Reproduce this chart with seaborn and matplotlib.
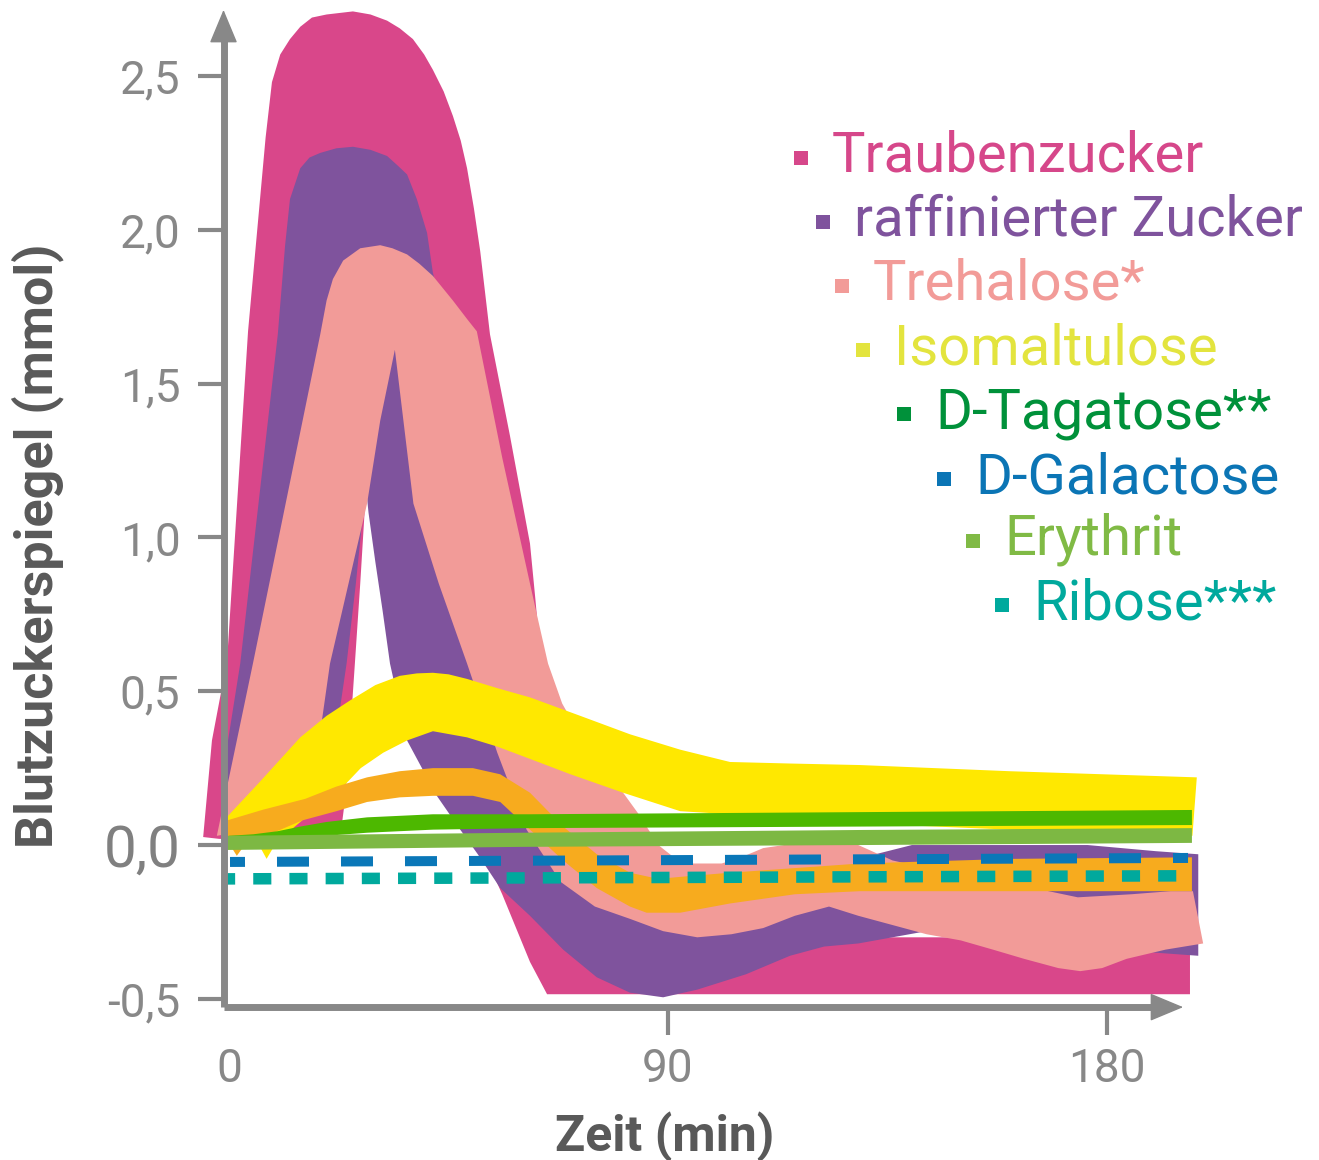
import numpy as np
import matplotlib
matplotlib.use("Agg")
import matplotlib.pyplot as plt
import seaborn as sns

sns.set_theme(style="white")
plt.rcParams['font.family'] = ['Roboto', 'DejaVu Sans']

# ---------------- data ----------------
# Traubenzucker (band: upper / lower outline)
trau_up_t = [-5.3, -3.5, -0.4, 3.9, 7.5, 8.8, 10.5, 12.5, 14.6, 17, 20, 25.4, 29, 32.4, 35, 37.7,
             40, 41.8, 44, 45.9, 47.5, 48.8, 50.2, 51.5, 53.5, 57.6, 61.7, 62.8, 64.5, 68, 72,
             80, 90, 120, 160, 197]
trau_up_v = [0.026, 0.34, 0.60, 1.67, 2.30, 2.48, 2.57, 2.62, 2.66, 2.69, 2.70, 2.71, 2.70, 2.68,
             2.655, 2.62, 2.57, 2.52, 2.45, 2.37, 2.29, 2.20, 2.07, 1.93, 1.66, 1.33, 0.98, 0.80,
             0.50, 0.20, 0.0, -0.2, -0.3, -0.3, -0.3, -0.3]
trau_lo_t = [-5.3, -2.0, 5, 15, 20, 23.0, 23.8, 24.5, 25.2, 25.8, 26.9, 27.9, 28.3, 28.8, 29.5,
             31, 33, 36.5, 40, 43.3, 48, 52, 56, 61.7, 65.2, 197]
trau_lo_v = [0.026, 0.02, 0.02, 0.02, 0.03, 0.05, 0.15, 0.30, 0.45, 0.59, 0.85, 1.11, 1.17, 1.16,
             1.07, 0.90, 0.70, 0.45, 0.33, 0.22, 0.10, -0.02, -0.16, -0.38, -0.485, -0.485]

# raffinierter Zucker
raff_up_t = [-1.5, -0.2, 2.3, 10, 11.5, 12.5, 14.6, 16.5, 18.7, 22, 25.4, 29, 32.4, 34.5, 36.5,
             38.5, 40.6, 41.8, 45, 50, 55, 60, 65, 70, 75, 85, 100, 115, 130, 140, 160, 176,
             190, 198.7]
raff_up_v = [0.10, 0.34, 0.59, 1.66, 1.95, 2.10, 2.20, 2.235, 2.25, 2.265, 2.27, 2.26, 2.24, 2.21,
             2.18, 2.10, 1.99, 1.86, 1.65, 1.35, 0.95, 0.60, 0.30, 0.10, 0.02, -0.05, -0.10,
             -0.08, -0.04, 0.0, 0.0, 0.0, -0.02, -0.03]
raff_lo_t = [-1.5, 5, 15, 20, 21.5, 22.8, 24.1, 26, 27.6, 28.1, 28.6, 30, 31.5, 33, 36.5, 42.6,
             47.4, 51, 55.6, 61.7, 68.5, 75.4, 82.2, 89, 96, 106, 115, 122, 129, 136, 143, 160,
             175, 190, 198.7]
raff_lo_v = [0.10, 0.10, 0.12, 0.20, 0.30, 0.45, 0.59, 0.85, 1.10, 1.16, 1.08, 0.92, 0.76, 0.59, 0.34,
             0.16, 0.05, -0.03, -0.14, -0.23, -0.34, -0.43, -0.48, -0.495, -0.47, -0.42, -0.36,
             -0.33, -0.32, -0.30, -0.28, -0.30, -0.33, -0.35, -0.36]

# Trehalose*
treh_up_t = [-2.5, 1.6, 4.9, 18.7, 20, 21.3, 23.4, 26.9, 31, 33.5, 36.5, 39, 41.8, 45.9, 48.8,
             50.8, 56, 61.7, 63.1, 65.4, 68.3, 74, 80.8, 84, 88, 92, 94.5, 101, 105, 109.5, 118,
             129, 136, 150, 165, 174, 185, 193, 197.6]
treh_up_v = [0.03, 0.34, 0.59, 1.66, 1.77, 1.84, 1.90, 1.94, 1.95, 1.94, 1.92, 1.89, 1.85, 1.77,
             1.71, 1.67, 1.26, 0.85, 0.75, 0.59, 0.46, 0.30, 0.17, 0.10, 0.0, -0.05, -0.06, -0.06,
             -0.04, -0.01, 0.01, 0.0, -0.05, -0.10, -0.14, -0.17, -0.16, -0.15, -0.15]
treh_lo_t = [-2.5, 5, 10, 16, 19, 20.7, 24.5, 28.3, 31, 34, 37.8, 43, 48.8, 55, 61, 68, 75, 82.2,
             89, 96, 103, 109.5, 116, 123, 129, 136, 143, 150, 156.6, 163, 170, 174.5, 179, 184,
             192, 199.7]
treh_lo_v = [0.03, 0.05, 0.08, 0.20, 0.40, 0.59, 0.85, 1.11, 1.38, 1.61, 1.11, 0.85, 0.59, 0.30, 0.05,
             -0.12, -0.20, -0.24, -0.28, -0.30, -0.29, -0.27, -0.23, -0.20, -0.23, -0.26, -0.29,
             -0.31, -0.34, -0.37, -0.40, -0.41, -0.40, -0.37, -0.34, -0.32]

# Isomaltulose
iso_up_t = [-0.5, 6, 14.6, 20, 24.8, 30, 35, 38.5, 41.8, 45, 48.8, 55, 61.7, 72, 82.2, 92.5,
            102.7, 115, 129.4, 160, 198.4]
iso_up_v = [0.09, 0.20, 0.35, 0.42, 0.47, 0.52, 0.55, 0.558, 0.56, 0.555, 0.54, 0.51, 0.48, 0.42,
            0.36, 0.31, 0.27, 0.265, 0.26, 0.24, 0.22]
iso_lo_t = [-0.5, 3, 6.5, 7.7, 9, 12, 15, 20, 23.4, 27, 31.6, 36.5, 41.8, 48.8, 55, 61.7, 70, 80.8,
            92.5, 102.7, 130, 160, 197.5]
iso_lo_v = [0.06, 0.02, -0.01, -0.045, -0.01, 0.04, 0.08, 0.15, 0.19, 0.25, 0.30, 0.34, 0.37, 0.35,
            0.32, 0.28, 0.23, 0.17, 0.11, 0.10, 0.07, 0.05, 0.03]

# orange band (no legend entry)
ora_up_t = [-0.4, 7, 15.6, 22, 28.3, 35, 41.8, 50, 55.6, 61.7, 68.5, 75.4, 82.2, 88, 95, 102.7,
            116, 129.4, 160, 197.4]
ora_up_v = [0.08, 0.115, 0.15, 0.19, 0.22, 0.24, 0.25, 0.25, 0.23, 0.17, 0.06, -0.03, -0.09, -0.11,
            -0.10, -0.09, -0.075, -0.06, -0.045, -0.04]
ora_lo_t = [-0.4, 0.6, 1.6, 3.2, 15, 22, 28.3, 35, 41.8, 50, 55.6, 61.7, 68.5, 75.4, 82.2, 85.6,
            92.5, 102.7, 116, 129.4, 160, 197.4]
ora_lo_v = [0.03, -0.01, -0.035, 0.0, 0.08, 0.11, 0.14, 0.155, 0.16, 0.16, 0.14, 0.05, -0.05, -0.14,
            -0.20, -0.22, -0.22, -0.19, -0.16, -0.15, -0.15, -0.15]

# D-Tagatose**
tag_up_t = [0, 5, 10, 14.6, 20, 28.3, 41.8, 61.7, 129.4, 197.4]
tag_up_v = [0.03, 0.035, 0.045, 0.06, 0.075, 0.09, 0.10, 0.10, 0.107, 0.114]
tag_lo_t = [0, 10, 20, 28.3, 41.8, 61.7, 129.4, 197.4]
tag_lo_v = [0.0, 0.01, 0.03, 0.04, 0.05, 0.055, 0.06, 0.065]

# Erythrit
ery_up_t = [-0.4, 60, 130, 197.4]
ery_up_v = [0.03, 0.04, 0.049, 0.055]
ery_lo_t = [-0.4, 60, 130, 197.4]
ery_lo_v = [-0.016, -0.006, 0.0, 0.007]

# D-Galactose, Ribose*** (lines)
gal_t = [0.2, 196.6]
gal_v = [-0.055, -0.042]
rib_t = [-0.4, 196.6]
rib_v = [-0.11, -0.10]

# legend / labels
legend_labels = ["Traubenzucker", "raffinierter Zucker", "Trehalose*", "Isomaltulose",
                 "D-Tagatose**", "D-Galactose", "Erythrit", "Ribose***"]
legend_colors = ["#D6478A", "#7F539D", "#F29B98", "#E3E43E",
                 "#00913A", "#0B75B5", "#80BA45", "#00A99D"]
y_ticks = [-0.5, 0.0, 0.5, 1.0, 1.5, 2.0, 2.5]
y_tick_labels = ["-0,5", "0,0", "0,5", "1,0", "1,5", "2,0", "2,5"]
x_ticks = [0, 90, 180]
x_tick_labels = ["0", "90", "180"]

# ---------------- figure ----------------
W, H = 1319, 1160
fig = plt.figure(figsize=(W / 100, H / 100), dpi=100)
ax = fig.add_axes([190 / W, 0.12302, 1039 / W, 0.8751])
ax.set_xlim(-8, 205)
ax.set_ylim(-0.56, 2.74)
ax.set_facecolor("white")

def band(tu, vu, tl, vl, color, z):
    xs = np.concatenate([np.asarray(tu, float), np.asarray(tl, float)[::-1]])
    ys = np.concatenate([np.asarray(vu, float), np.asarray(vl, float)[::-1]])
    ax.fill(xs, ys, color=color, lw=0, zorder=z)

band(trau_up_t, trau_up_v, trau_lo_t, trau_lo_v, "#D9478A", 2)
band(raff_up_t, raff_up_v, raff_lo_t, raff_lo_v, "#7F539D", 3)
band(treh_up_t, treh_up_v, treh_lo_t, treh_lo_v, "#F29B98", 4)
band(iso_up_t, iso_up_v, iso_lo_t, iso_lo_v, "#FFE800", 5)
band(ora_up_t, ora_up_v, ora_lo_t, ora_lo_v, "#F7AB1E", 6)
band(tag_up_t, tag_up_v, tag_lo_t, tag_lo_v, "#4DB800", 7)
band(ery_up_t, ery_up_v, ery_lo_t, ery_lo_v, "#7DB843", 8)

sns.lineplot(x=gal_t, y=gal_v, ax=ax, color="#0A77B8", lw=7.2,
             linestyle=(1.7, (3.2, 3.2)), zorder=9, dash_capstyle="butt")
sns.lineplot(x=rib_t, y=rib_v, ax=ax, color="#00A99D", lw=8.3,
             linestyle=(0.87, (1.57, 1.57)), zorder=10, dash_capstyle="butt")

# ---------------- axes styling ----------------
grey = "#888888"
for s in ["top", "right"]:
    ax.spines[s].set_visible(False)
ax.spines["left"].set_position(("data", -1.13))
ax.spines["bottom"].set_position(("data", -0.527))
ax.spines["left"].set_bounds(-0.527, 2.65)
ax.spines["bottom"].set_bounds(-1.13, 190)
for s in ["left", "bottom"]:
    ax.spines[s].set_color(grey)
    ax.spines[s].set_linewidth(5)
    ax.spines[s].set_zorder(11)
    ax.spines[s].set_capstyle("butt")

arrow_kw = dict(arrowstyle="-|>,head_length=0.72,head_width=0.3", color=grey, lw=1,
                mutation_scale=30, shrinkA=0, shrinkB=0)
ax.annotate("", xy=(-1.13, 2.715), xytext=(-1.13, 2.5), arrowprops=arrow_kw,
            annotation_clip=False, zorder=12)
ax.annotate("", xy=(195.6, -0.527), xytext=(185, -0.527), arrowprops=arrow_kw,
            annotation_clip=False, zorder=12)

ax.set_yticks(y_ticks, y_tick_labels)
ax.set_xticks(x_ticks, x_tick_labels)
ax.tick_params(axis="y", left=True, direction="out", length=19, width=3, color=grey,
               pad=12, labelsize=33, labelcolor=grey)
ax.tick_params(axis="x", bottom=True, direction="out", length=20, width=3, color=grey,
               pad=9, labelsize=33, labelcolor=grey)
for lbl in ax.get_yticklabels():
    if lbl.get_text() == "0,0":
        lbl.set_fontsize(42)
        lbl.set_color("#808080")
ax.xaxis.get_major_ticks()[0].tick1line.set_visible(False)
ax.grid(False)

# axis titles
fig.text(665 / W, 1 - 1151 / H, "Zeit (min)", ha="center", va="baseline",
         fontsize=36, color="#595959", fontweight="bold")
fig.text(38 / W, 1 - 546 / H, "Blutzuckerspiegel (mmol)", ha="center", va="center",
         rotation=90, fontsize=37.5, color="#595959", fontweight="bold")

# legend (staggered text with small squares)
leg_text_x = [832, 854, 873, 894, 935, 975, 1004, 1033]
leg_base_y = [172, 236, 300, 364, 428, 493, 555, 619]
for i, (lab, col) in enumerate(zip(legend_labels, legend_colors)):
    tx, by = leg_text_x[i], leg_base_y[i]
    fig.text(tx / W, 1 - by / H, lab, ha="left", va="baseline", fontsize=40.5, color=col)
    fig.patches.append(matplotlib.patches.Rectangle(
        ((tx - 38) / W, 1 - (by - 7) / H), 14 / W, 14 / H,
        transform=fig.transFigure, color=col, lw=0))

fig.savefig("out.png", dpi=100)
